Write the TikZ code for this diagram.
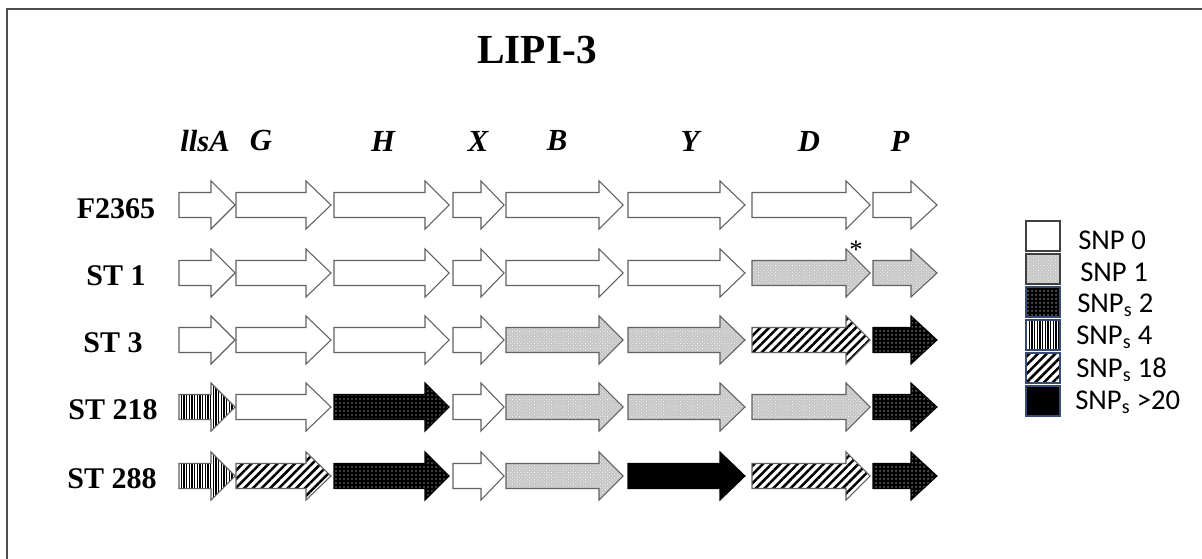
\documentclass[tikz,border=0pt]{standalone}
\usepackage{fontspec}
\setmainfont{Liberation Serif}
\newfontfamily\legendfont{Carlito}
\usetikzlibrary{patterns,patterns.meta}

% one gene drawn as a block arrow: style, body start, head start, tip, row centre
\newcommand\genearrow[5]{%
  \path[#1] (#2,#5-12.5) -- (#3,#5-12.5) -- (#3,#5-24) -- (#4,#5)
    -- (#3,#5+24) -- (#3,#5+12.5) -- (#2,#5+12.5) -- cycle;}

\begin{document}
\begin{tikzpicture}[x=0.75pt,y=-0.75pt]
\useasboundingbox (0,0) rectangle (1202,559);
\tikzset{
  gene/.style={draw=black!62, line width=0.8pt, line join=miter},
  snpzero/.style={gene, fill=white},
  snpone/.style={gene, preaction={fill=black!22},
    pattern={Dots[distance=1.8pt, radius=0.38pt, angle=45]}, pattern color=white},
  snptwo/.style={gene, draw=black, preaction={fill=black},
    pattern={Dots[distance=3pt, radius=0.55pt]}, pattern color=white},
  snpfour/.style={gene, preaction={fill=white},
    pattern={Lines[angle=90, distance=2pt, line width=0.85pt]}, pattern color=black},
  snpeighteen/.style={gene, preaction={fill=white},
    pattern={Lines[angle=45, distance=4.6pt, line width=1.9pt]}, pattern color=black},
  snpmany/.style={gene, draw=black, fill=black},
  rowlabel/.style={font=\fontsize{22.5}{22.5}\selectfont\bfseries, anchor=center},
  genelabel/.style={font=\fontsize{23}{23}\selectfont\bfseries\itshape, anchor=center},
  legtext/.style={font=\legendfont\fontsize{21.5}{21.5}\selectfont, anchor=west, inner sep=0pt},
  legedge/.style={line width=0.8pt, draw={rgb,255:red,55;green,75;blue,115}},
}

% frame
\draw[line width=1.5pt, black!70] (6.5,559) -- (6.5,9.5) -- (1202,9.5);

% title
\node[font=\fontsize{31}{31}\selectfont\bfseries] (title) at (537,50) {LIPI-3};

% gene names
\node[genelabel] (gllsA) at (205,141) {llsA};
\node[genelabel] (gG) at (261,141) {G};
\node[genelabel] (gH) at (383,141) {H};
\node[genelabel] (gX) at (478,141) {X};
\node[genelabel] (gB) at (557,141) {B};
\node[genelabel] (gY) at (690,141) {Y};
\node[genelabel] (gD) at (809,141) {D};
\node[genelabel] (gP) at (900,141) {P};

% strain names
\node[rowlabel] (rF) at (116,209) {F2365};
\node[rowlabel] (rA) at (116,276) {ST 1};
\node[rowlabel] (rB) at (113,343) {ST 3};
\node[rowlabel] (rC) at (113,410) {ST 218};
\node[rowlabel] (rD) at (112,479) {ST 288};

% gene arrows, one row per strain
\foreach \xa/\xb/\xc/\s in {179/211/235/snpzero, 236/306/331/snpzero,
    334/425/449/snpzero, 453/481/504/snpzero, 506/599/623/snpzero,
    628/720/745/snpzero, 752/846/870/snpzero, 873/911/937/snpzero}
  {\genearrow{\s}{\xa}{\xb}{\xc}{205}}
\foreach \xa/\xb/\xc/\s in {179/211/235/snpzero, 236/306/331/snpzero,
    334/425/449/snpzero, 453/481/504/snpzero, 506/599/623/snpzero,
    628/720/745/snpzero, 752/846/870/snpone, 873/911/937/snpone}
  {\genearrow{\s}{\xa}{\xb}{\xc}{273}}
\foreach \xa/\xb/\xc/\s in {179/211/235/snpzero, 236/306/331/snpzero,
    334/425/449/snpzero, 453/481/504/snpzero, 506/599/623/snpone,
    628/720/745/snpone, 752/846/870/snpeighteen, 873/911/937/snptwo}
  {\genearrow{\s}{\xa}{\xb}{\xc}{340}}
\foreach \xa/\xb/\xc/\s in {179/211/235/snpfour, 236/306/331/snpzero,
    334/425/449/snptwo, 453/481/504/snpzero, 506/599/623/snpone,
    628/720/745/snpone, 752/846/870/snpone, 873/911/937/snptwo}
  {\genearrow{\s}{\xa}{\xb}{\xc}{407}}
\foreach \xa/\xb/\xc/\s in {179/211/235/snpfour, 236/306/331/snpeighteen,
    334/425/449/snptwo, 453/481/504/snpzero, 506/599/623/snpone,
    628/720/745/snpmany, 752/846/870/snpeighteen, 873/911/937/snptwo}
  {\genearrow{\s}{\xa}{\xb}{\xc}{476}}

% mark on gene D of ST 1
\node[font=\fontsize{20}{20}\selectfont] (star) at (856,250) {*};

% legend
\path[snpzero, draw=black!75] (1026,221) rectangle (1060,251);
\node[legtext] (l0) at (1078,240) {SNP 0};
\path[snpone, draw=black!75] (1026,254) rectangle (1060,284);
\node[legtext] (l1) at (1080,272) {SNP 1};
\path[snptwo, legedge] (1026,287) rectangle (1060,317);
\node[legtext] (l2) at (1077,305) {SNP\textsubscript{s} 2};
\path[snpfour, legedge] (1026,320) rectangle (1060,350);
\node[legtext] (l4) at (1076,337) {SNP\textsubscript{s} 4};
\path[snpeighteen, legedge] (1026,353) rectangle (1060,383);
\node[legtext] (l18) at (1076,370) {SNP\textsubscript{s} 18};
\path[snpmany, legedge] (1026,386) rectangle (1060,416);
\node[legtext] (l20) at (1075,402) {SNP\textsubscript{s} >20};
\end{tikzpicture}
\end{document}
